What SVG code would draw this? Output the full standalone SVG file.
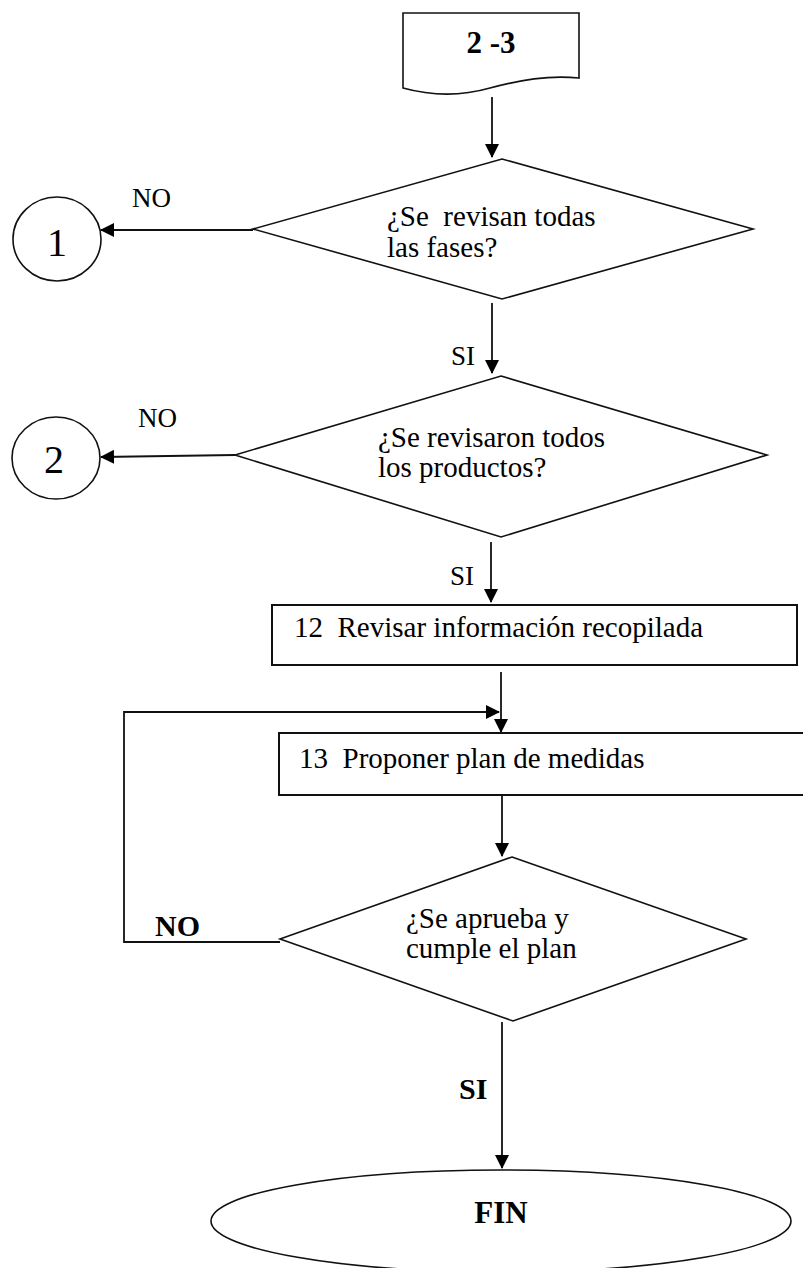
<svg xmlns="http://www.w3.org/2000/svg" width="803" height="1268" viewBox="0 0 803 1268">
<style>
text{font-family:'Liberation Serif','DejaVu Serif','Noto Serif',serif;fill:#000}
.t{font-size:29px}
.lbl{font-size:27px}
.b{font-weight:bold}
.shape{fill:#fff;stroke:#111;stroke-width:1.6}
.box{fill:#fff;stroke:#111;stroke-width:2}
.conn{fill:none;stroke:#111;stroke-width:1.8}
</style>
<defs>
<marker id="ah" markerUnits="userSpaceOnUse" markerWidth="14" markerHeight="14" viewBox="0 0 14 14" refX="13" refY="7" orient="auto">
<path d="M0,0 L14,7 L0,14 Z" fill="#000"/>
</marker>
</defs>
<rect width="803" height="1268" fill="#fff"/>

<g id="connectors" font-family="Liberation Serif, DejaVu Serif, serif">
<line class="conn" x1="492" y1="97" x2="492" y2="157" marker-end="url(#ah)"/>
<line class="conn" x1="253" y1="230" x2="101" y2="230" marker-end="url(#ah)"/>
<line class="conn" x1="492" y1="303" x2="492" y2="373" marker-end="url(#ah)"/>
<line class="conn" x1="235" y1="455" x2="101" y2="457" marker-end="url(#ah)"/>
<line class="conn" x1="491" y1="542" x2="491" y2="602" marker-end="url(#ah)"/>
<line class="conn" x1="501" y1="672" x2="501" y2="732" marker-end="url(#ah)"/>
<polyline class="conn" points="280,942 124,942 124,712 499,712" marker-end="url(#ah)"/>
<line class="conn" x1="502" y1="795" x2="502" y2="856" marker-end="url(#ah)"/>
<line class="conn" x1="502" y1="1022" x2="502" y2="1168" marker-end="url(#ah)"/>
<text class="lbl" x="132" y="207">NO</text>
<text class="lbl" x="138" y="427">NO</text>
<text class="lbl" x="451" y="365">SI</text>
<text class="lbl" x="450" y="585">SI</text>
<text class="b" font-size="30" x="155" y="936">NO</text>
<text class="b" font-size="30" x="459" y="1099">SI</text>
</g>

<g id="start">
<path class="shape" d="M403,88 V13 H579 V78 C548,75 520,80 490,88 C462,96 432,96 403,88 Z"/>
<text class="b" font-size="31" x="491" y="53" text-anchor="middle" xml:space="preserve">2 -3</text>
</g>

<g id="d1">
<polygon class="shape" points="502,159 753,229 502,299 253,229"/>
<text class="t" x="387" y="226" xml:space="preserve">¿Se  revisan todas</text>
<text class="t" x="387" y="257">las fases?</text>
</g>

<g id="c1">
<ellipse class="shape" cx="57" cy="239" rx="44" ry="42"/>
<text font-size="40" x="57" y="256" text-anchor="middle">1</text>
</g>

<g id="d2">
<polygon class="shape" points="501,376 767,455 501,537 235,455"/>
<text class="t" x="378" y="447">¿Se revisaron todos</text>
<text class="t" x="378" y="477">los productos?</text>
</g>

<g id="c2">
<ellipse class="shape" cx="56" cy="458" rx="44" ry="41"/>
<text font-size="40" x="54" y="473" text-anchor="middle">2</text>
</g>

<g id="r12">
<rect class="box" x="272" y="605" width="525" height="60"/>
<text class="t" x="294" y="637" xml:space="preserve">12  Revisar información recopilada</text>
</g>

<g id="r13">
<rect class="box" x="279" y="733" width="540" height="62"/>
<text class="t" x="299" y="768" xml:space="preserve">13  Proponer plan de medidas</text>
</g>

<g id="d3">
<polygon class="shape" points="512,857 746,939 513,1021 280,939"/>
<text class="t" x="406" y="928">¿Se aprueba y</text>
<text class="t" x="406" y="958">cumple el plan</text>
</g>

<g id="fin">
<ellipse class="shape" cx="501" cy="1221" rx="290" ry="51"/>
<text class="b" font-size="31" x="501" y="1223" text-anchor="middle">FIN</text>
</g>
</svg>
